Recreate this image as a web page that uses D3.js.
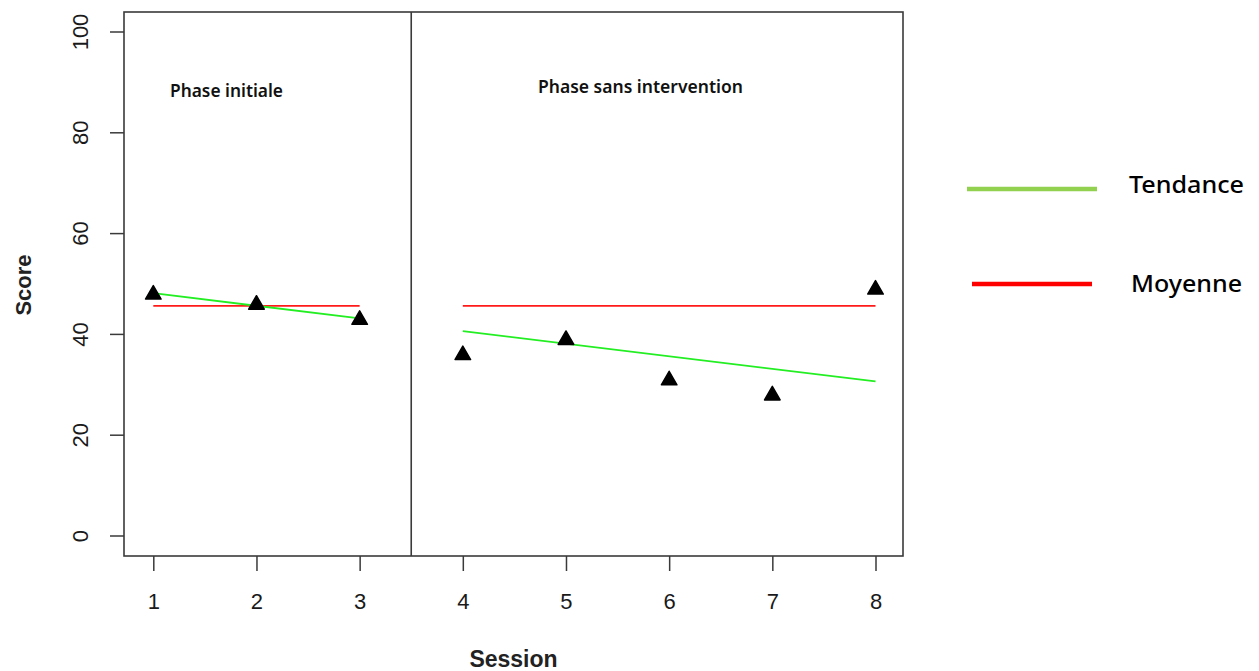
<!DOCTYPE html>
<html>
<head>
<meta charset="utf-8">
<script src="https://cdn.jsdelivr.net/npm/d3@7"></script>
<style>
  html, body { margin: 0; padding: 0; background: #fff; }
  svg { display: block; }
</style>
</head>
<body>
<script>
// ---- data ----
const sessions = [1, 2, 3, 4, 5, 6, 7, 8];
const scores   = [48, 46, 43, 36, 39, 31, 28, 49];
const xTicks = [1, 2, 3, 4, 5, 6, 7, 8];
const yTicks = [0, 20, 40, 60, 80, 100];
const phaseBreak = 3.5;
const phaseLabels = ["Phase initiale", "Phase sans intervention"];
// mean of baseline phase, projected (start session, end session, value)
const meanSegments = [[1, 3, 45.67], [4, 8, 45.67]];
// trend of baseline phase, projected (x1, y1, x2, y2)
const trendSegments = [[1, 48.17, 3, 43.17], [4, 40.67, 8, 30.67]];
const legendLabels = ["Tendance", "Moyenne"];

// ---- layout ----
const W = 1259, H = 671;
const box = { left: 124, top: 12, right: 903, bottom: 556 };

const svg = d3.select("body").append("svg").attr("width", W).attr("height", H);

const x = d3.scaleLinear().domain([1, 8]).range([153.3, 875.5]);
const y = d3.scaleLinear().domain([0, 100]).range([536, 32]);

const axisColor = "#3a3a3a";
const tickFont = "Liberation Sans, Arial, sans-serif";

// axes
const xAxis = d3.axisBottom(x).tickValues(xTicks).tickSize(15).tickPadding(22).tickFormat(d3.format("d"));
const gx = svg.append("g").attr("transform", `translate(0,${box.bottom})`).call(xAxis);
gx.select(".domain").remove();
gx.selectAll("line").attr("stroke", axisColor).attr("stroke-width", 1.5);
gx.selectAll("text").attr("font-family", tickFont).attr("font-size", 22).attr("fill", "#1a1a1a")
  .attr("dy", "0.71em");

const yAxis = d3.axisLeft(y).tickValues(yTicks).tickSize(14).tickPadding(0).tickFormat(d3.format("d"));
const gy = svg.append("g").attr("transform", `translate(${box.left},0)`).call(yAxis);
gy.select(".domain").remove();
gy.selectAll("line").attr("stroke", axisColor).attr("stroke-width", 1.5);
gy.selectAll("text")
  .attr("font-family", tickFont).attr("font-size", 22).attr("fill", "#1a1a1a")
  .attr("x", null).attr("dy", null)
  .attr("text-anchor", "middle")
  .attr("transform", d => `translate(${88 - box.left},${y(d)}) rotate(-90)`)
  .attr("y", 0);
gy.selectAll(".tick").attr("transform", null);
gy.selectAll(".tick line").attr("transform", d => `translate(0,${y(d)})`);

// frame
svg.append("rect")
  .attr("x", box.left).attr("y", box.top)
  .attr("width", box.right - box.left).attr("height", box.bottom - box.top)
  .attr("fill", "none").attr("stroke", axisColor).attr("stroke-width", 1.6);

// phase divider
svg.append("line")
  .attr("x1", x(phaseBreak)).attr("x2", x(phaseBreak))
  .attr("y1", box.top).attr("y2", box.bottom)
  .attr("stroke", axisColor).attr("stroke-width", 1.6);

// mean lines
svg.selectAll(".mean").data(meanSegments).enter().append("line")
  .attr("x1", d => x(d[0])).attr("x2", d => x(d[1]))
  .attr("y1", d => y(d[2])).attr("y2", d => y(d[2]))
  .attr("stroke", "#ff1a1a").attr("stroke-width", 1.8);

// trend lines
svg.selectAll(".trend").data(trendSegments).enter().append("line")
  .attr("x1", d => x(d[0])).attr("y1", d => y(d[1]))
  .attr("x2", d => x(d[2])).attr("y2", d => y(d[3]))
  .attr("stroke", "#22ee22").attr("stroke-width", 1.8);

// points
const tri = d3.symbol().type(d3.symbolTriangle).size(105);
svg.selectAll(".pt").data(sessions).enter().append("path")
  .attr("d", tri)
  .attr("transform", (d, i) => `translate(${x(d)},${y(scores[i]) + 0.5})`)
  .attr("fill", "#000").attr("stroke", "#000").attr("stroke-width", 1.5).attr("stroke-linejoin", "round");

// phase labels
const phaseFont = "Noto Sans, Open Sans, sans-serif";
svg.append("text").text(phaseLabels[0])
  .attr("x", 170).attr("y", 97)
  .attr("font-family", phaseFont).attr("font-size", 18).attr("font-weight", 600).attr("fill", "#111")
  .attr("textLength", 113).attr("lengthAdjust", "spacingAndGlyphs");
svg.append("text").text(phaseLabels[1])
  .attr("x", 538).attr("y", 93)
  .attr("font-family", phaseFont).attr("font-size", 18).attr("font-weight", 600).attr("fill", "#111")
  .attr("textLength", 205).attr("lengthAdjust", "spacingAndGlyphs");

// axis titles
const titleFont = "Liberation Sans, Arial, sans-serif";
svg.append("text").text("Session")
  .attr("x", 513.5).attr("y", 667)
  .attr("text-anchor", "middle")
  .attr("font-family", titleFont).attr("font-size", 23).attr("font-weight", "bold").attr("fill", "#222");
svg.append("text").text("Score")
  .attr("transform", "translate(31,285) rotate(-90)")
  .attr("text-anchor", "middle")
  .attr("font-family", titleFont).attr("font-size", 22).attr("font-weight", "bold").attr("fill", "#222");

// legend
const legend = [
  { label: legendLabels[0], color: "#92d050", x1: 967, x2: 1097, y: 189, ty: 193, tx: 1129, tl: 115 },
  { label: legendLabels[1], color: "#ff0000", x1: 972, x2: 1092, y: 284, ty: 292, tx: 1131, tl: 111 }
];
const lg = svg.selectAll(".lg").data(legend).enter().append("g");
lg.append("line")
  .attr("x1", d => d.x1).attr("x2", d => d.x2)
  .attr("y1", d => d.y).attr("y2", d => d.y)
  .attr("stroke", d => d.color).attr("stroke-width", 4.5);
lg.append("text").text(d => d.label)
  .attr("x", d => d.tx).attr("y", d => d.ty)
  .attr("font-family", phaseFont).attr("font-size", 23).attr("font-weight", 500).attr("fill", "#000")
  .attr("textLength", d => d.tl).attr("lengthAdjust", "spacingAndGlyphs");
</script>
</body>
</html>
